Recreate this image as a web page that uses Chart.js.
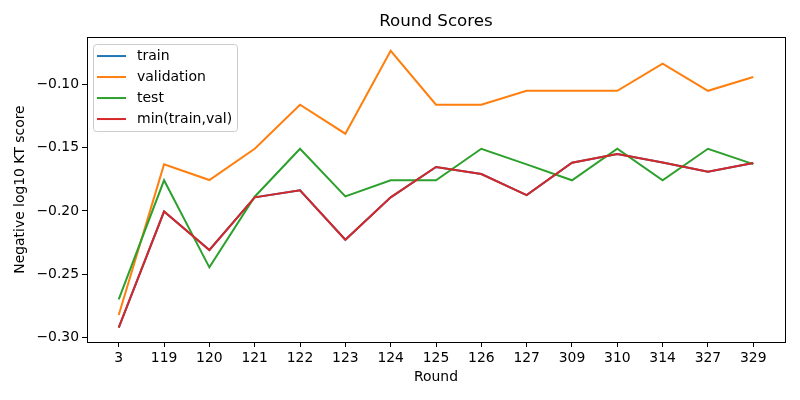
<!DOCTYPE html>
<html lang="en">
<head>
  <meta charset="UTF-8">
  <title>Round Scores</title>
  <script src="https://cdn.jsdelivr.net/npm/chart.js"></script>
  <style>
    html, body { margin: 0; padding: 0; background: #fff; }
    #wrap { width: 800px; height: 400px; }
  </style>
</head>
<body>
  <div id="wrap"><canvas id="scoreChart"></canvas></div>

  <script>
    var rounds = ['3', '119', '120', '121', '122', '123', '124', '125', '126', '127', '309', '310', '314', '327', '329'];
    var trainScores = [-0.2923, -0.2005, -0.2309, -0.1893, -0.1837, -0.2228, -0.1893, -0.1653, -0.1709, -0.1875, -0.1619, -0.1551, -0.1618, -0.1690, -0.1622];
    var validationScores = [-0.2823, -0.1632, -0.1756, -0.1509, -0.1161, -0.1390, -0.0735, -0.1161, -0.1161, -0.1051, -0.1051, -0.1051, -0.0837, -0.1051, -0.0942];
    var testScores = [-0.2699, -0.1758, -0.2446, -0.1888, -0.1509, -0.1885, -0.1758, -0.1758, -0.1509, -0.1632, -0.1758, -0.1509, -0.1758, -0.1509, -0.1630];
    var minScores = [-0.2923, -0.2005, -0.2309, -0.1893, -0.1837, -0.2228, -0.1893, -0.1653, -0.1709, -0.1875, -0.1619, -0.1551, -0.1618, -0.1690, -0.1622];
    var yTicks = [-0.30, -0.25, -0.20, -0.15, -0.10];

    var FONT = 'DejaVu Sans';

    function toPoints(values) {
      return values.map(function (v, i) { return { x: i, y: v }; });
    }

    function line(label, values, color, order) {
      return {
        label: label,
        data: toPoints(values),
        borderColor: color,
        backgroundColor: color,
        borderWidth: 2,
        pointRadius: 0,
        tension: 0,
        fill: false,
        order: order
      };
    }

    // matplotlib style frame + legend inside the axes
    var framePlugin = {
      id: 'frame',
      afterDraw: function (chart) {
        var ctx = chart.ctx;
        var a = chart.chartArea;
        ctx.save();
        ctx.strokeStyle = '#000';
        ctx.lineWidth = 1;
        ctx.strokeRect(Math.round(a.left) + 0.5, Math.round(a.top) + 0.5,
          Math.round(a.right - a.left), Math.round(a.bottom - a.top));

        // legend box
        var x0 = a.left + 6, y0 = a.top + 7, w = 144, h = 87;
        ctx.beginPath();
        ctx.roundRect(x0 + 0.5, y0 + 0.5, w, h, 3);
        ctx.fillStyle = 'rgba(255,255,255,0.8)';
        ctx.fill();
        ctx.strokeStyle = '#cccccc';
        ctx.stroke();

        ctx.font = '14px ' + FONT;
        ctx.textBaseline = 'middle';
        ctx.textAlign = 'left';
        chart.data.datasets.forEach(function (ds, i) {
          var y = y0 + 12 + i * 21;
          ctx.beginPath();
          ctx.moveTo(x0 + 4, y);
          ctx.lineTo(x0 + 33, y);
          ctx.strokeStyle = ds.borderColor;
          ctx.lineWidth = 2;
          ctx.stroke();
          ctx.fillStyle = '#000';
          ctx.fillText(ds.label, x0 + 44, y);
        });
        ctx.restore();
      }
    };

    var ctx = document.getElementById('scoreChart').getContext('2d');
    var scoreChart = new Chart(ctx, {
      type: 'line',
      data: {
        datasets: [
          line('train', trainScores, '#1f77b4', 4),
          line('validation', validationScores, '#ff7f0e', 3),
          line('test', testScores, '#2ca02c', 2),
          line('min(train,val)', minScores, '#d62728', 1)
        ]
      },
      options: {
        responsive: true,
        maintainAspectRatio: false,
        animation: false,
        layout: { padding: { left: 0, right: 15, top: 0, bottom: 0 } },
        plugins: {
          legend: { display: false },
          tooltip: { enabled: false },
          title: {
            display: true,
            fullSize: false,
            text: 'Round Scores',
            color: '#000',
            font: { family: FONT, size: 16.7, weight: 'normal' },
            padding: { top: 12, bottom: 5 }
          }
        },
        scales: {
          x: {
            type: 'linear',
            min: -0.7,
            max: 14.7,
            afterBuildTicks: function (scale) {
              scale.ticks = rounds.map(function (r, i) { return { value: i }; });
            },
            afterFit: function (scale) { scale.height = 58; },
            ticks: {
              autoSkip: false,
              maxRotation: 0,
              color: '#000',
              padding: 3,
              font: { family: FONT, size: 13.9 },
              callback: function (value) { return rounds[value]; }
            },
            grid: { drawOnChartArea: false, drawTicks: true, tickLength: 5, color: '#000' },
            border: { display: true, color: '#000' },
            title: {
              display: true,
              text: 'Round',
              color: '#000',
              font: { family: FONT, size: 13.9 },
              padding: { top: 2, bottom: 14 }
            }
          },
          y: {
            type: 'linear',
            min: -0.3036,
            max: -0.0626,
            afterBuildTicks: function (scale) {
              scale.ticks = yTicks.map(function (v) { return { value: v }; });
            },
            afterFit: function (scale) { scale.width = 87; },
            ticks: {
              color: '#000',
              padding: 3,
              font: { family: FONT, size: 13.9 },
              callback: function (value) { return value.toFixed(2).replace('-', '\u2212'); }
            },
            grid: { drawOnChartArea: false, drawTicks: true, tickLength: 5, color: '#000' },
            border: { display: true, color: '#000' },
            title: {
              display: true,
              text: 'Negative log10 KT score',
              color: '#000',
              font: { family: FONT, size: 13.9 },
              padding: { top: 12, bottom: 0 }
            }
          }
        }
      },
      plugins: [framePlugin]
    });
  </script>
</body>
</html>
